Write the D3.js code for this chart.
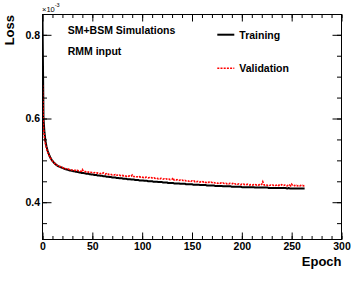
<!DOCTYPE html>
<html>
<head>
<meta charset="utf-8">
<script src="https://cdn.jsdelivr.net/npm/d3@7"></script>
<style>
  html, body { margin: 0; padding: 0; background: #fff; }
  svg { display: block; font-family: "Liberation Sans", Arial, Helvetica, sans-serif; }
</style>
</head>
<body>
<svg id="chart" width="356" height="282"></svg>
<script>
// Loss values in units of 1e-3, one per epoch (0..263)
const training = [
  0.840, 0.600, 0.566, 0.546, 0.533, 0.524, 0.517, 0.511, 0.506, 0.502,
  0.499, 0.496, 0.493, 0.491, 0.489, 0.487, 0.486, 0.485, 0.484, 0.483,
  0.482, 0.481, 0.480, 0.479, 0.478, 0.478, 0.477, 0.476, 0.476, 0.475,
  0.475, 0.474, 0.474, 0.473, 0.473, 0.472, 0.472, 0.471, 0.471, 0.470,
  0.470, 0.470, 0.469, 0.469, 0.468, 0.468, 0.468, 0.467, 0.467, 0.466,
  0.466, 0.466, 0.465, 0.465, 0.465, 0.464, 0.464, 0.464, 0.463, 0.463,
  0.463, 0.462, 0.462, 0.462, 0.461, 0.461, 0.461, 0.460, 0.460, 0.460,
  0.459, 0.459, 0.459, 0.459, 0.458, 0.458, 0.458, 0.457, 0.457, 0.457,
  0.457, 0.456, 0.456, 0.456, 0.456, 0.455, 0.455, 0.455, 0.455, 0.454,
  0.454, 0.454, 0.454, 0.453, 0.453, 0.453, 0.453, 0.452, 0.452, 0.452,
  0.452, 0.452, 0.451, 0.451, 0.451, 0.451, 0.450, 0.450, 0.450, 0.450,
  0.450, 0.449, 0.449, 0.449, 0.449, 0.449, 0.448, 0.448, 0.448, 0.448,
  0.448, 0.447, 0.447, 0.447, 0.447, 0.447, 0.446, 0.446, 0.446, 0.446,
  0.446, 0.446, 0.445, 0.445, 0.445, 0.445, 0.445, 0.445, 0.444, 0.444,
  0.444, 0.444, 0.444, 0.444, 0.443, 0.443, 0.443, 0.443, 0.443, 0.443,
  0.443, 0.442, 0.442, 0.442, 0.442, 0.442, 0.442, 0.442, 0.441, 0.441,
  0.441, 0.441, 0.441, 0.441, 0.441, 0.440, 0.440, 0.440, 0.440, 0.440,
  0.440, 0.440, 0.440, 0.439, 0.439, 0.439, 0.439, 0.439, 0.439, 0.439,
  0.439, 0.438, 0.438, 0.438, 0.438, 0.438, 0.438, 0.438, 0.438, 0.438,
  0.437, 0.437, 0.437, 0.437, 0.437, 0.437, 0.437, 0.437, 0.437, 0.437,
  0.436, 0.436, 0.436, 0.436, 0.436, 0.436, 0.436, 0.436, 0.436, 0.436,
  0.436, 0.436, 0.436, 0.435, 0.435, 0.435, 0.435, 0.435, 0.435, 0.435,
  0.435, 0.435, 0.435, 0.435, 0.435, 0.435, 0.435, 0.434, 0.434, 0.434,
  0.434, 0.434, 0.434, 0.434, 0.434, 0.434, 0.434, 0.434, 0.434, 0.434,
  0.434, 0.434, 0.434, 0.434, 0.434, 0.433, 0.433, 0.434, 0.433, 0.433,
  0.433, 0.433, 0.433, 0.433, 0.433, 0.433, 0.433, 0.433, 0.433, 0.433,
  0.433, 0.433, 0.433, 0.433
];
const validation = [
  0.680, 0.578, 0.553, 0.539, 0.529, 0.521, 0.515, 0.510, 0.505, 0.502,
  0.498, 0.497, 0.493, 0.492, 0.489, 0.488, 0.487, 0.485, 0.485, 0.484,
  0.483, 0.482, 0.482, 0.480, 0.480, 0.479, 0.479, 0.478, 0.478, 0.477,
  0.477, 0.477, 0.476, 0.476, 0.475, 0.476, 0.475, 0.475, 0.474, 0.474,
  0.478, 0.474, 0.473, 0.473, 0.472, 0.473, 0.472, 0.471, 0.472, 0.471,
  0.471, 0.470, 0.471, 0.470, 0.469, 0.470, 0.469, 0.469, 0.468, 0.469,
  0.468, 0.470, 0.468, 0.467, 0.468, 0.466, 0.467, 0.466, 0.467, 0.466,
  0.465, 0.466, 0.465, 0.466, 0.464, 0.465, 0.464, 0.465, 0.464, 0.463,
  0.464, 0.463, 0.464, 0.463, 0.462, 0.463, 0.462, 0.463, 0.462, 0.462,
  0.465, 0.462, 0.461, 0.462, 0.461, 0.461, 0.460, 0.461, 0.460, 0.461,
  0.460, 0.459, 0.460, 0.459, 0.460, 0.459, 0.458, 0.459, 0.458, 0.459,
  0.458, 0.457, 0.458, 0.457, 0.458, 0.457, 0.456, 0.457, 0.456, 0.457,
  0.456, 0.455, 0.456, 0.455, 0.456, 0.455, 0.454, 0.455, 0.454, 0.455,
  0.455, 0.458, 0.453, 0.454, 0.453, 0.454, 0.453, 0.452, 0.453, 0.452,
  0.453, 0.452, 0.451, 0.452, 0.451, 0.452, 0.451, 0.450, 0.451, 0.450,
  0.451, 0.450, 0.451, 0.449, 0.450, 0.449, 0.450, 0.449, 0.448, 0.449,
  0.448, 0.449, 0.448, 0.449, 0.447, 0.448, 0.447, 0.448, 0.447, 0.448,
  0.447, 0.446, 0.447, 0.446, 0.447, 0.446, 0.445, 0.446, 0.445, 0.446,
  0.445, 0.446, 0.445, 0.444, 0.445, 0.444, 0.445, 0.444, 0.445, 0.444,
  0.444, 0.445, 0.443, 0.444, 0.443, 0.444, 0.443, 0.444, 0.443, 0.442,
  0.443, 0.442, 0.443, 0.442, 0.443, 0.442, 0.443, 0.442, 0.441, 0.442,
  0.442, 0.441, 0.442, 0.441, 0.442, 0.441, 0.442, 0.441, 0.442, 0.441,
  0.443, 0.449, 0.442, 0.441, 0.442, 0.441, 0.440, 0.441, 0.440, 0.441,
  0.440, 0.441, 0.440, 0.441, 0.440, 0.441, 0.442, 0.440, 0.441, 0.440,
  0.442, 0.441, 0.440, 0.441, 0.440, 0.439, 0.440, 0.439, 0.441, 0.439,
  0.443, 0.440, 0.439, 0.440, 0.439, 0.440, 0.439, 0.440, 0.439, 0.440,
  0.439, 0.440, 0.439, 0.440
];
const xMajorTicks = [0, 50, 100, 150, 200, 250, 300];
const xMinorTicks = d3.range(0, 301, 10);
const yMajorTicks = [0.4, 0.6, 0.8];
const yMinorTicks = [0.35, 0.4, 0.45, 0.5, 0.55, 0.6, 0.65, 0.7, 0.75, 0.8];
const xTitle = "Epoch";
const yTitle = "Loss";
const legendLabels = ["Training", "Validation"];
const infoText = ["SM+BSM Simulations", "RMM input"];

const svg = d3.select("#chart");
const L = 42.5, R = 341.5, T = 14.5, B = 239.5;
const x = d3.scaleLinear().domain([0, 300]).range([L, R]);
const y = d3.scaleLinear().domain([0.3109, 0.8485]).range([B, T]);
const font = '"Liberation Sans", Arial, Helvetica, sans-serif';

svg.append("defs").append("clipPath").attr("id", "clip")
  .append("rect").attr("x", L).attr("y", T).attr("width", R - L).attr("height", B - T);

// data lines
const line = d3.line().x((d, i) => x(i)).y(d => y(d));
const plot = svg.append("g").attr("clip-path", "url(#clip)");
plot.append("path").datum(training)
  .attr("fill", "none").attr("stroke", "#000").attr("stroke-width", 2)
  .attr("stroke-linejoin", "round").attr("d", line);
plot.append("path").datum(validation)
  .attr("fill", "none").attr("stroke", "#ff0000").attr("stroke-width", 1.6)
  .attr("stroke-dasharray", "2,1.2").attr("d", line);

// axes (ticks pointing inward)
function styleAxis(g) {
  g.selectAll(".domain").remove();
  g.selectAll("line").attr("stroke", "#000");
  g.selectAll("text").attr("font-family", font).attr("font-weight", "bold")
    .attr("font-size", 10.5).attr("fill", "#000");
}
svg.append("g").attr("transform", `translate(0,${B})`)
  .call(d3.axisBottom(x).tickValues(xMinorTicks).tickSize(-3.5).tickFormat("")).call(styleAxis);
svg.append("g").attr("transform", `translate(0,${B})`)
  .call(d3.axisBottom(x).tickValues(xMajorTicks).tickSize(-7).tickPadding(3.5).tickFormat(d3.format("d"))).call(styleAxis);
svg.append("g").attr("transform", `translate(0,${T})`)
  .call(d3.axisTop(x).tickValues(xMinorTicks).tickSize(-3.5).tickFormat("")).call(styleAxis);
svg.append("g").attr("transform", `translate(0,${T})`)
  .call(d3.axisTop(x).tickValues(xMajorTicks).tickSize(-7).tickFormat("")).call(styleAxis);

svg.append("g").attr("transform", `translate(${L},0)`)
  .call(d3.axisLeft(y).tickValues(yMinorTicks).tickSize(-4.5).tickFormat("")).call(styleAxis);
svg.append("g").attr("transform", `translate(${L},0)`)
  .call(d3.axisLeft(y).tickValues(yMajorTicks).tickSize(-9).tickPadding(2.5).tickFormat(d3.format(".1f"))).call(styleAxis);
svg.append("g").attr("transform", `translate(${R},0)`)
  .call(d3.axisRight(y).tickValues(yMinorTicks).tickSize(-4.5).tickFormat("")).call(styleAxis);
svg.append("g").attr("transform", `translate(${R},0)`)
  .call(d3.axisRight(y).tickValues(yMajorTicks).tickSize(-9).tickFormat("")).call(styleAxis);

// frame
svg.append("rect").attr("x", L).attr("y", T).attr("width", R - L).attr("height", B - T)
  .attr("fill", "none").attr("stroke", "#000").attr("stroke-width", 1);

// axis titles
svg.append("text").attr("x", R).attr("y", 265.5).attr("text-anchor", "end")
  .attr("font-family", font).attr("font-weight", "bold").attr("font-size", 13).text(xTitle);
svg.append("text").attr("transform", "translate(13.5,15) rotate(-90)").attr("text-anchor", "end")
  .attr("font-family", font).attr("font-weight", "bold").attr("font-size", 13).text(yTitle);

// exponent
const ex = svg.append("text").attr("x", 42).attr("y", 11.7)
  .attr("font-family", font).attr("font-size", 7.5).attr("fill", "#000");
ex.append("tspan").text("\u00d710");
ex.append("tspan").attr("font-size", 5.5).attr("dy", -4.5).text("-3");

// info text
svg.append("text").attr("x", 67.7).attr("y", 33.7)
  .attr("font-family", font).attr("font-weight", "bold").attr("font-size", 10.5).text(infoText[0]);
svg.append("text").attr("x", 67.7).attr("y", 55.3)
  .attr("font-family", font).attr("font-weight", "bold").attr("font-size", 10.5).text(infoText[1]);

// legend
const leg = svg.append("g");
leg.append("line").attr("x1", 217.3).attr("x2", 234.3).attr("y1", 34.7).attr("y2", 34.7)
  .attr("stroke", "#000").attr("stroke-width", 2);
leg.append("text").attr("x", 239.3).attr("y", 38.5)
  .attr("font-family", font).attr("font-weight", "bold").attr("font-size", 10.5).text(legendLabels[0]);
leg.append("line").attr("x1", 217.3).attr("x2", 234.3).attr("y1", 68.3).attr("y2", 68.3)
  .attr("stroke", "#ff0000").attr("stroke-width", 1.6).attr("stroke-dasharray", "2,1.2");
leg.append("text").attr("x", 239.3).attr("y", 72)
  .attr("font-family", font).attr("font-weight", "bold").attr("font-size", 10.5).text(legendLabels[1]);
</script>
</body>
</html>
